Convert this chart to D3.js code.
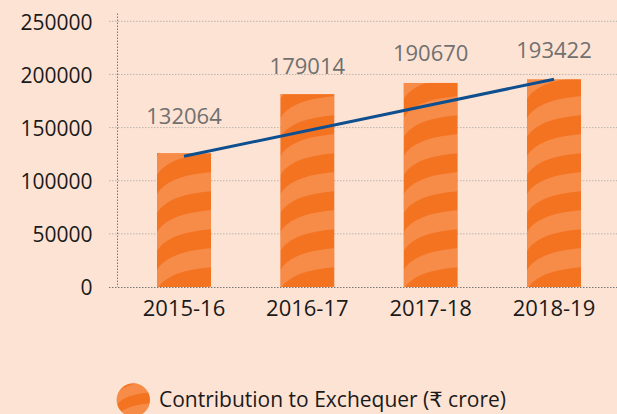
<!DOCTYPE html>
<html>
<head>
<meta charset="utf-8">
<script src="https://cdn.jsdelivr.net/npm/d3@7"></script>
<style>
  body { margin: 0; background: #fde3d4; }
  svg { display: block; }
</style>
</head>
<body>
<script>
"use strict"

var width = 617,
    height = 414;

// data
var years = ["2015-16", "2016-17", "2017-18", "2018-19"];
var labels = [132064, 179014, 190670, 193422];      // printed values
var barValues = [126000, 181500, 192000, 195500];   // heights as drawn
var trend = [123000, 195500];                       // trend line, first to last bar
var yTicks = [0, 50000, 100000, 150000, 200000, 250000];
var legendText = "Contribution to Exchequer (\u20b9 crore)";

var font = "'Open Sans', 'DejaVu Sans', sans-serif";
var dark = "#f47321",
    light = "#f68c48",
    barWidth = 54,
    period = 38;

var svg = d3.select("body").append("svg")
    .attr("width", width)
    .attr("height", height)
    .style("font-family", font);

svg.append("rect")
    .attr("width", width)
    .attr("height", height)
    .attr("fill", "#fde3d4");

var x = d3.scalePoint().domain(years).range([184, 554]);
var y = d3.scaleLinear().domain([0, 250000]).range([287, 21.3]);

var defs = svg.append("defs");

// wavy diagonal stripes, one pattern per bar so each starts at its left edge
function stripes(id, x0, y0, w, h) {
    var p = defs.append("pattern")
        .attr("id", id)
        .attr("patternUnits", "userSpaceOnUse")
        .attr("x", x0)
        .attr("y", y0)
        .attr("width", w)
        .attr("height", h);
    p.append("rect").attr("width", w).attr("height", h).attr("fill", dark);
    [-h, 0, h].forEach(function(o) {
        var a = o + h * 0.55;
        var b = a + h * 0.5;
        var rise = w * 0.4;
        p.append("path")
            .attr("fill", light)
            .attr("d", "M0," + a +
                " Q" + (w * 0.2) + "," + (a - rise * 0.85) + " " + w + "," + (a - rise) +
                " L" + w + "," + (b - rise) +
                " Q" + (w * 0.2) + "," + (b - rise * 0.85) + " 0," + b + "Z");
    });
}

years.forEach(function(d, i) {
    stripes("stripe" + i, x(d) - barWidth / 2, y(0), barWidth, period);
});

// gridlines
svg.append("g")
  .selectAll("line")
  .data(yTicks.slice(1))
  .join("line")
    .attr("x1", 109)
    .attr("x2", width)
    .attr("y1", function(d) { return y(d); })
    .attr("y2", function(d) { return y(d); })
    .attr("stroke", "#bbb3ad")
    .attr("stroke-width", 1)
    .attr("stroke-dasharray", "1.5,1.5");

// y axis
var yAxis = svg.append("g")
    .attr("transform", "translate(117.5,0)")
    .call(d3.axisLeft(y).tickValues(yTicks).tickFormat(d3.format("d")).tickSize(0).tickPadding(25));
yAxis.select(".domain").remove();
yAxis.selectAll("text")
    .attr("font-size", "21px")
    .attr("dy", "0.38em")
    .attr("fill", "#1a1a1a")
    .attr("font-family", font);

svg.append("line")
    .attr("x1", 117.5).attr("x2", 117.5)
    .attr("y1", 13.5).attr("y2", y(0))
    .attr("stroke", "#777")
    .attr("stroke-dasharray", "1.5,1.5");

// bars
svg.append("g")
  .selectAll("rect")
  .data(years)
  .join("rect")
    .attr("x", function(d) { return x(d) - barWidth / 2; })
    .attr("y", function(d, i) { return y(barValues[i]); })
    .attr("width", barWidth)
    .attr("height", function(d, i) { return y(0) - y(barValues[i]); })
    .attr("fill", function(d, i) { return "url(#stripe" + i + ")"; });

// baseline
svg.append("line")
    .attr("x1", 109).attr("x2", width)
    .attr("y1", y(0) + 0.5).attr("y2", y(0) + 0.5)
    .attr("stroke", "#777")
    .attr("stroke-dasharray", "1.5,1.5");

// trend line
svg.append("line")
    .attr("x1", x(years[0])).attr("y1", y(trend[0]))
    .attr("x2", x(years[years.length - 1])).attr("y2", y(trend[1]))
    .attr("stroke", "#0d4f8f")
    .attr("stroke-width", 3);

// value labels
svg.append("g")
  .selectAll("text")
  .data(labels)
  .join("text")
    .attr("x", function(d, i) { return x(years[i]); })
    .attr("y", function(d) { return y(d) - 23; })
    .attr("text-anchor", "middle")
    .attr("font-size", "22px")
    .attr("fill", "#707070")
    .text(function(d) { return d; });

// x labels
svg.append("g")
  .selectAll("text")
  .data(years)
  .join("text")
    .attr("x", function(d) { return x(d); })
    .attr("y", 316)
    .attr("text-anchor", "middle")
    .attr("font-size", "22px")
    .attr("fill", "#1a1a1a")
    .text(function(d) { return d; });

// legend
stripes("stripeLegend", 116, 383, 34, 22);
svg.append("circle")
    .attr("cx", 133.3)
    .attr("cy", 400)
    .attr("r", 16.7)
    .attr("fill", "url(#stripeLegend)");

svg.append("text")
    .attr("x", 159)
    .attr("y", 407)
    .attr("font-size", "21px")
    .attr("fill", "#1a1a1a")
    .text(legendText);
</script>
</body>
</html>
